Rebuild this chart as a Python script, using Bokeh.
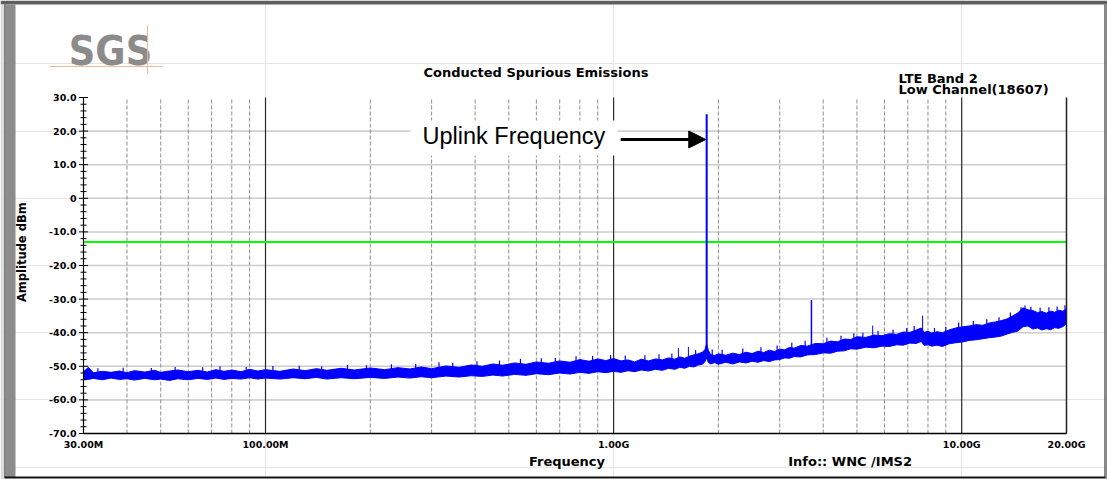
import math

from bokeh.plotting import figure
from bokeh.models import (Range1d, LogScale, Label, BoxAnnotation, Arrow, NormalHead,
                          ColumnDataSource)
from bokeh.core.properties import value
from bokeh.embed import file_html
from bokeh.resources import INLINE

# ---------------- measured sweep (MHz / dBm) ----------------
freq_mhz = [30, 31, 32, 34, 36, 38, 40, 42, 45, 48, 50, 53, 56, 60, 64, 68, 72, 76, 80, 85,
            90, 95, 100, 110, 120, 130, 140, 150, 165, 180, 200, 220, 240, 260, 280, 300, 330,
            360, 390, 420, 450, 480, 520, 560, 600, 650, 700, 750, 800, 850, 900, 950, 1000,
            1050, 1100, 1150, 1200, 1260, 1320, 1380, 1440, 1500, 1550, 1600, 1650, 1700, 1750,
            1800, 1830, 1850, 1870, 1900, 1950, 2000, 2100, 2200, 2300, 2400, 2500, 2600, 2700,
            2800, 2900, 3000, 3100, 3200, 3300, 3450, 3600, 3800, 4000, 4200, 4400, 4600, 4800,
            5000, 5300, 5600, 5900, 6200, 6500, 6800, 7100, 7400, 7650, 7800, 8000, 8200, 8500,
            8800, 9200, 9600, 10000, 10500, 11000, 11500, 12000, 12500, 13000, 13500, 14000,
            14500, 15000, 15500, 16000, 16500, 17000, 17500, 18000, 18500, 19000, 19500, 20000]

# lower edge of the noise trace
floor_lo_dbm = [-53.8, -53.9, -53.6, -54.0, -53.5, -53.9, -53.7, -54.1, -53.6, -54.0, -53.8, -54.2,
                -53.7, -54.0, -53.6, -53.9, -53.5, -53.9, -53.6, -53.8, -53.4, -53.8, -53.5, -53.8,
                -53.4, -53.7, -53.3, -53.8, -53.4, -53.7, -53.3, -53.6, -53.2, -53.5, -53.1, -53.4,
                -52.9, -53.2, -52.8, -53.0, -52.6, -52.9, -52.4, -52.7, -52.2, -52.5, -52.0, -52.3,
                -51.8, -52.1, -51.6, -51.9, -51.5, -51.8, -51.3, -51.6, -51.1, -51.4, -50.9, -51.2,
                -50.6, -50.9, -50.3, -50.6, -50.0, -50.2, -49.6, -49.4, -48.6, -47.5, -48.8, -49.3,
                -48.9, -49.4, -48.8, -49.3, -48.7, -49.0, -48.5, -48.8, -48.3, -48.6, -48.1, -48.0,
                -47.5, -47.6, -47.1, -47.2, -46.6, -46.5, -46.0, -46.1, -45.5, -45.4, -44.8, -44.9,
                -44.3, -44.5, -44.0, -44.1, -43.6, -43.7, -43.1, -43.2, -42.6, -43.8, -43.6, -44.0,
                -43.7, -44.1, -43.3, -43.0, -42.8, -42.3, -42.1, -41.8, -41.5, -41.3, -41.0, -40.4,
                -39.9, -39.5, -38.2, -38.0, -38.9, -38.6, -39.2, -38.8, -39.1, -38.5, -38.7, -38.2,
                -37.4]

# upper edge of the noise trace
floor_hi_dbm = [-51.6, -50.3, -51.9, -51.5, -51.8, -51.4, -51.9, -51.3, -51.7, -51.2, -51.8, -51.4,
                -51.1, -51.6, -51.2, -51.7, -51.0, -51.5, -51.1, -51.6, -50.9, -51.4, -51.0, -51.5,
                -50.8, -51.3, -50.7, -51.2, -50.6, -51.1, -50.5, -51.0, -50.4, -50.8, -50.2, -50.7,
                -49.9, -50.3, -49.6, -50.0, -49.3, -49.7, -49.0, -49.4, -48.7, -49.1, -48.4, -48.8,
                -48.0, -48.5, -47.8, -48.3, -47.7, -48.4, -48.1, -48.7, -47.9, -48.4, -47.8, -48.1,
                -47.5, -47.9, -47.2, -47.6, -47.0, -46.6, -46.3, -45.8, -45.0, -43.3, -45.2, -46.5,
                -46.8, -46.3, -46.7, -46.1, -46.5, -45.8, -46.2, -45.5, -45.9, -45.2, -45.6, -44.9,
                -45.1, -44.4, -44.6, -43.8, -44.0, -43.2, -43.3, -42.5, -42.7, -41.9, -42.0, -41.2,
                -41.4, -40.7, -40.9, -40.3, -40.5, -39.8, -39.9, -39.2, -38.6, -39.9, -39.6, -40.1,
                -39.7, -40.0, -39.2, -38.6, -38.3, -38.0, -37.6, -37.8, -37.1, -36.8, -36.4, -35.9,
                -35.0, -34.1, -32.6, -33.2, -33.4, -34.0, -33.7, -34.2, -33.6, -33.9, -33.3, -33.6,
                -33.0]

# short noise spurs sticking out of the floor
spur_mhz = [33, 39, 47, 55, 66, 74, 88, 105, 125, 145, 172, 195, 230, 270, 315, 345, 405, 470,
            540, 620, 680, 780, 870, 980, 1080, 1230, 1350, 1470, 1720, 1920, 2050, 2350, 2650,
            2950, 3250, 3550, 4100, 4500, 4900, 5200, 5750, 6350, 6950, 7300, 8350, 9000, 9800,
            10800, 11800, 12800, 13800, 14800, 15200, 15800, 16800, 17800, 18800, 19800]
spur_base_dbm = [-52.5, -52.6, -52.4, -52.5, -52.3, -52.2, -52.1, -52.2, -52.0, -51.9, -51.8,
                 -51.8, -51.6, -51.5, -51.3, -51.3, -51.0, -50.8, -50.5, -50.2, -50.0, -49.8,
                 -49.6, -49.5, -49.6, -49.5, -49.2, -49.0, -47.8, -47.8, -47.8, -47.4, -47.0,
                 -46.5, -46.0, -45.3, -44.5, -43.8, -43.2, -42.8, -42.5, -42.0, -41.4, -41.0,
                 -41.8, -41.4, -40.3, -39.8, -39.4, -38.8, -37.7, -36.0, -35.5, -36.0, -36.3,
                 -36.2, -36.0, -35.4]
spur_top_dbm = [-50.6, -50.4, -50.5, -50.2, -50.3, -50.0, -50.2, -49.9, -49.8, -50.0, -49.6,
                -49.7, -49.4, -49.3, -48.8, -49.0, -48.5, -48.3, -47.8, -47.6, -47.5, -47.0,
                -46.9, -46.6, -46.8, -46.7, -46.4, -46.2, -45.2, -45.0, -45.1, -44.7, -44.3,
                -43.8, -43.0, -42.4, -41.5, -40.9, -40.2, -40.0, -39.4, -39.1, -38.6, -38.0,
                -38.6, -38.2, -37.0, -36.5, -36.0, -35.4, -34.0, -32.4, -31.9, -32.3, -32.6,
                -32.4, -32.2, -31.8]

# discrete emissions: uplink carrier, harmonics and small spurs
spike_mhz = [1535, 1640, 1850.7, 3701, 5550, 7720]
spike_base_dbm = [-50.5, -50.0, -47.5, -46.4, -44.4, -42.8]
spike_peak_dbm = [-44.6, -44.2, 25.0, -30.3, -37.9, -34.9]
spike_width = [1, 1, 2, 1.5, 1, 1]

limit_dbm = -13.0

x_ticks_mhz = [30, 100, 1000, 10000, 20000]
x_tick_labels = ["30.00M", "100.00M", "1.00G", "10.00G", "20.00G"]
y_ticks_dbm = [-70, -60, -50, -40, -30, -20, -10, 0, 10, 20, 30]
y_tick_labels = ["-70.0", "-60.0", "-50.0", "-40.0", "-30.0", "-20.0", "-10.0", "0",
                 "10.0", "20.0", "30.0"]
y_minor_dbm = [v for v in range(-70, 31, 2) if v % 10 != 0]
decade_grid_mhz = [100, 1000, 10000]
sub_grid_mhz = [40, 50, 60, 70, 80, 90, 200, 300, 400, 500, 600, 700, 800, 900,
                2000, 3000, 4000, 5000, 6000, 7000, 8000, 9000]

carrier_mhz = spike_mhz[2]
arrow_level_dbm = 17.5

# ---------------- canvas geometry (px) ----------------
W, H = 1107, 479
FL, FR, FT, FB = 83, 1066, 97, 433          # plotting area inside the canvas

f_min, f_max = x_ticks_mhz[0], x_ticks_mhz[-1]
a_min, a_max = y_ticks_dbm[0], y_ticks_dbm[-1]
px_per_decade = (FR - FL) / math.log10(f_max / f_min)
db_per_px = (a_max - a_min) / (FB - FT)

x_range = Range1d(f_min / 10 ** (FL / px_per_decade), f_max * 10 ** ((W - FR) / px_per_decade))
y_range = Range1d(a_min - (H - FB) * db_per_px, a_max + FT * db_per_px)

BOLD = "DejaVu Sans"
BASELINE_SHIFT = 0.36   # label anchor correction, in em

p = figure(width=W, height=H, x_range=x_range, y_range=y_range,
           x_axis_type="log", x_axis_location=None, y_axis_location=None,
           output_backend="svg", toolbar_location=None, title=None,
           min_border=0, min_border_left=0, min_border_right=0,
           min_border_top=0, min_border_bottom=0)
p.x_scale = LogScale()
p.background_fill_color = "white"
p.border_fill_color = "white"
p.outline_line_color = None

# ---------------- grid ----------------
n_y = len(y_ticks_dbm) - 2
p.segment(x0=[f_min] * n_y, x1=[f_max] * n_y, y0=y_ticks_dbm[1:-1], y1=y_ticks_dbm[1:-1],
          line_color="#cdcdcd", line_width=1.5)
p.segment(x0=sub_grid_mhz, x1=sub_grid_mhz, y0=[a_min] * len(sub_grid_mhz),
          y1=[a_max] * len(sub_grid_mhz), line_color="#8f8f8f", line_width=1,
          line_dash="4 2")
p.segment(x0=decade_grid_mhz, x1=decade_grid_mhz, y0=[a_min] * len(decade_grid_mhz),
          y1=[a_max] * len(decade_grid_mhz), line_color="#2a2a2a", line_width=1.2)

# ---------------- limit line ----------------
p.segment(x0=[f_min], x1=[f_max], y0=[limit_dbm], y1=[limit_dbm],
          line_color="#00ff00", line_width=2)

# ---------------- trace ----------------
src = ColumnDataSource(dict(f=freq_mhz, lo=floor_lo_dbm, hi=floor_hi_dbm))
p.varea(x="f", y1="lo", y2="hi", source=src, fill_color="#0000ff", fill_alpha=1)
p.line(x="f", y="hi", source=src, line_color="#0000ff", line_width=1)
p.line(x="f", y="lo", source=src, line_color="#0000ff", line_width=1)

spur = ColumnDataSource(dict(f=spur_mhz, b=spur_base_dbm, t=spur_top_dbm))
p.segment(x0="f", y0="b", x1="f", y1="t", source=spur, line_color="#0000ff", line_width=1.2)

spk = ColumnDataSource(dict(f=spike_mhz, b=spike_base_dbm, t=spike_peak_dbm, w=spike_width))
p.segment(x0="f", y0="b", x1="f", y1="t", source=spk, line_color="#0000ff", line_width="w")

# ---------------- axes ----------------
p.segment(x0=[f_min], x1=[f_min], y0=[a_min], y1=[a_max], line_color="black", line_width=1.2)
p.segment(x0=[f_max], x1=[f_max], y0=[a_min], y1=[a_max], line_color="#222222", line_width=1.5)
p.segment(x0=[f_min], x1=[f_max], y0=[a_min], y1=[a_min], line_color="black", line_width=1.5)
p.dash(x=[f_min] * len(y_ticks_dbm), y=y_ticks_dbm, size=9, line_color="black", line_width=1)
p.dash(x=[f_min] * len(y_minor_dbm), y=y_minor_dbm, size=6, line_color="black", line_width=1)

p.text(x=[f_min] * len(y_ticks_dbm), y=y_ticks_dbm, text=y_tick_labels, x_offset=-7,
       text_align="right", text_baseline="middle", text_font=value(BOLD),
       text_font_style="bold", text_font_size="9.5px", text_color="black")
p.text(x=x_ticks_mhz, y=[a_min] * len(x_ticks_mhz), text=x_tick_labels, y_offset=5,
       text_align="center", text_baseline="top", text_font=value(BOLD),
       text_font_style="bold", text_font_size="9.5px", text_color="black")


def sx(px):
    return px


def sy(py):
    return H - py


def box(x0, y0, x1, y1, color):
    p.add_layout(BoxAnnotation(left=sx(x0), right=sx(x1), top=sy(y0), bottom=sy(y1),
                               left_units="screen", right_units="screen",
                               top_units="screen", bottom_units="screen",
                               fill_color=color, fill_alpha=1, line_color=None))


def text(px, py, s, size, align="left", font=BOLD, style="bold", color="black", rotated=False):
    # (px, py) is the baseline anchor on the canvas
    shift = BASELINE_SHIFT * size
    if rotated:
        px, angle = px - shift, math.pi / 2
    else:
        py, angle = py - shift, 0.0
    p.add_layout(Label(x=sx(px), y=sy(py), x_units="screen", y_units="screen", text=s,
                       text_font=font, text_font_style=style, text_font_size=f"{size}px",
                       text_color=color, text_align=align, text_baseline="alphabetic",
                       angle=angle))


# ---------------- uplink annotation ----------------
box(410, 120, 617, 155, "white")
text(422, 144, "Uplink Frequency", 23.5, font="Liberation Sans", style="normal")
p.add_layout(Arrow(x_start=1048, y_start=arrow_level_dbm,
                   x_end=carrier_mhz * 0.994, y_end=arrow_level_dbm,
                   line_color="black", line_width=3,
                   end=NormalHead(size=17, fill_color="black", line_color="black")))

# ---------------- titles and captions ----------------
text(535.5, 76.7, "Conducted Spurious Emissions", 13, align="center")
text(898, 83, "LTE Band 2", 13)
text(898, 93.5, "Low Channel(18607)", 13)
text(25.4, 251.7, "Amplitude dBm", 11.5, align="center", rotated=True)
text(566.5, 466, "Frequency", 13, align="center")
text(787.7, 466, "Info:: WNC /IMS2", 13)

# ---------------- company mark ----------------
text(110, 65, "SGS", 41, align="center",
     font="DejaVu Sans Condensed, Liberation Sans, sans-serif", color="#8b8b8b")
box(49, 65.5, 162, 66.5, "#f5b78c")
box(146.5, 25, 147.5, 73, "#f5b78c")

# ---------------- window frame ----------------
box(0, 0, W, 4, "#5f5f5f")
box(0, 4, 4, H, "#dcdcdc")
box(4, 4, 5, 477, "#111111")
box(5, 4, 15, 477, "#8c8c8c")
box(4, 476, 1105, 477.5, "#111111")
box(4, 477.5, W, H, "#8c8c8c")
box(1104, 4, 1105, 477, "#111111")
box(1105, 4, W, H, "#8c8c8c")

open("out.html", "w").write(file_html(p, INLINE))
